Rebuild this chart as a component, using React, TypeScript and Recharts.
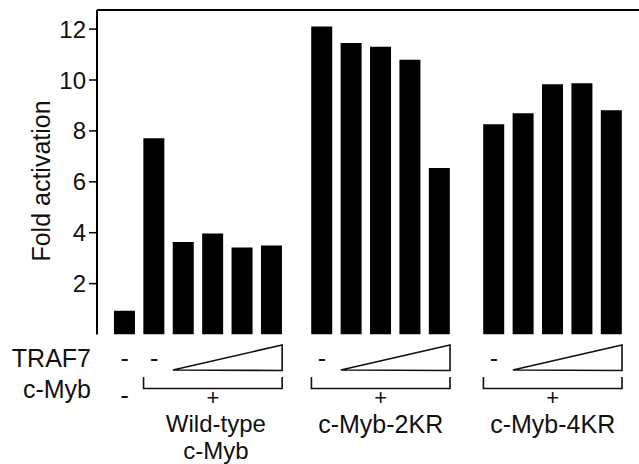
import React from 'react';
import { BarChart, Bar, XAxis, YAxis, ReferenceLine, Customized } from 'recharts';

// ---- data ----
const controlValues = [0.93];
const wildTypeValues = [7.71, 3.63, 3.97, 3.42, 3.5];
const kr2Values = [12.1, 11.45, 11.31, 10.8, 6.54];
const kr4Values = [8.26, 8.69, 9.83, 9.87, 8.81];
const yTicks = [2, 4, 6, 8, 10, 12];
const groupLabels = [['Wild-type', 'c-Myb'], ['c-Myb-2KR'], ['c-Myb-4KR']];
const rowLabels = ['TRAF7', 'c-Myb'];

// ---- layout ----
const FONT = '"Liberation Sans", Arial, Helvetica, sans-serif';
const CHART_W = 670;
const CHART_H = 464;
const PLOT_LEFT = 97;
const PLOT_TOP = 10;
const PLOT_BOTTOM = 334.5;
const PITCH = 29.4; // px per layout unit
const FIRST_OFFSET = 27.65; // px from plot left to first bar centre
const GROUP_GAPS = [1.71, 1.85]; // spacing (layout units) between c-Myb groups
const BAR_W = 21;
const Y_MAX = 12.75;

const PLOT_W = CHART_W - PLOT_LEFT;
const xMin = -FIRST_OFFSET / PITCH;
const xMax = xMin + PLOT_W / PITCH;
const toPx = (pos: number) => PLOT_LEFT + (pos - xMin) * PITCH;

const mybGroups = [wildTypeValues, kr2Values, kr4Values];

type Row = { pos: number; value: number; group: number };
const data: Row[] = [];
controlValues.forEach((v, i) => data.push({ pos: i, value: v, group: -1 }));
const groupStarts: number[] = [];
{
  let start = controlValues.length;
  mybGroups.forEach((vals, g) => {
    if (g > 0) start += GROUP_GAPS[g - 1];
    groupStarts.push(start);
    vals.forEach((v, i) => data.push({ pos: start + i, value: v, group: g }));
    start += vals.length - 1;
  });
}

const TRAF_BASE = 367;
const MYB_BASE = 398;
const TXT = 25;

const Annotations = () => {
  const els: React.ReactNode[] = [];
  els.push(
    <text key="ytitle" x={50} y={181} transform="rotate(-90 50 181)" textAnchor="middle"
      fontFamily={FONT} fontSize={TXT} fill="#111">Fold activation</text>
  );
  els.push(
    <text key="r0" x={91} y={TRAF_BASE} textAnchor="end" fontFamily={FONT} fontSize={TXT} fill="#111">{rowLabels[0]}</text>,
    <text key="r1" x={91} y={MYB_BASE} textAnchor="end" fontFamily={FONT} fontSize={TXT} fill="#111">{rowLabels[1]}</text>
  );
  controlValues.forEach((_, i) => {
    const cx = toPx(i);
    els.push(
      <text key={`cd0${i}`} x={cx} y={TRAF_BASE} textAnchor="middle" fontFamily={FONT} fontSize={TXT} fill="#111">-</text>,
      <text key={`cd1${i}`} x={cx} y={MYB_BASE + 6} textAnchor="middle" fontFamily={FONT} fontSize={TXT} fill="#111">-</text>
    );
  });
  mybGroups.forEach((vals, g) => {
    const s = groupStarts[g];
    const e = s + vals.length - 1;
    const left = toPx(s) - BAR_W / 2;
    const right = toPx(e) + BAR_W / 2;
    const wedgeL = toPx(s + 1) - BAR_W / 2;
    const mid = (left + right) / 2;
    const lx = mid + (g === 0 ? 3 : 0);
    const lines = groupLabels[g];
    const multi = lines.length > 1;
    els.push(
      <text key={`gd${g}`} x={toPx(s)} y={TRAF_BASE} textAnchor="middle" fontFamily={FONT} fontSize={TXT} fill="#111">-</text>,
      <polygon key={`w${g}`} points={`${wedgeL},370 ${right},345 ${right},370.5`} fill="none" stroke="#111" strokeWidth={1.6} strokeLinejoin="miter" />,
      <polyline key={`b${g}`} points={`${left},377 ${left},388.5 ${right},388.5 ${right},377`} fill="none" stroke="#111" strokeWidth={1.6} />,
      <text key={`p${g}`} x={mid} y={405} textAnchor="middle" fontFamily={FONT} fontSize={22} fill="#111">+</text>
    );
    lines.forEach((line, li) => {
      els.push(
        <text key={`l${g}-${li}`} x={lx} y={(multi ? 431.5 : 433) + li * 27} textAnchor="middle"
          fontFamily={FONT} fontSize={multi ? 24 : TXT} fill="#111">{line}</text>
      );
    });
  });
  return <g>{els}</g>;
};

export default function App() {
  return (
    <div style={{ position: 'absolute', left: 0, top: 0, width: 639, height: 464, overflow: 'hidden', background: '#fff' }}>
      <BarChart
        width={CHART_W}
        height={CHART_H}
        data={data}
        margin={{ top: PLOT_TOP, right: 0, bottom: CHART_H - PLOT_BOTTOM, left: 0 }}
      >
        <XAxis
          type="number"
          dataKey="pos"
          domain={[xMin, xMax]}
          allowDataOverflow
          tick={false}
          tickLine={false}
          axisLine={{ stroke: '#000', strokeWidth: 2 }}
          height={0}
        />
        <YAxis
          type="number"
          domain={[0, Y_MAX]}
          allowDataOverflow
          ticks={yTicks}
          width={PLOT_LEFT}
          tickSize={8}
          tickMargin={3}
          axisLine={{ stroke: '#000', strokeWidth: 2 }}
          tickLine={{ stroke: '#000', strokeWidth: 1.5 }}
          tick={{ fill: '#111', fontSize: 24, fontFamily: FONT }}
        />
        <ReferenceLine y={Y_MAX} stroke="#000" strokeWidth={2} />
        <Bar dataKey="value" fill="#000" barSize={BAR_W} isAnimationActive={false} />
        <Customized component={<Annotations />} />
      </BarChart>
    </div>
  );
}
